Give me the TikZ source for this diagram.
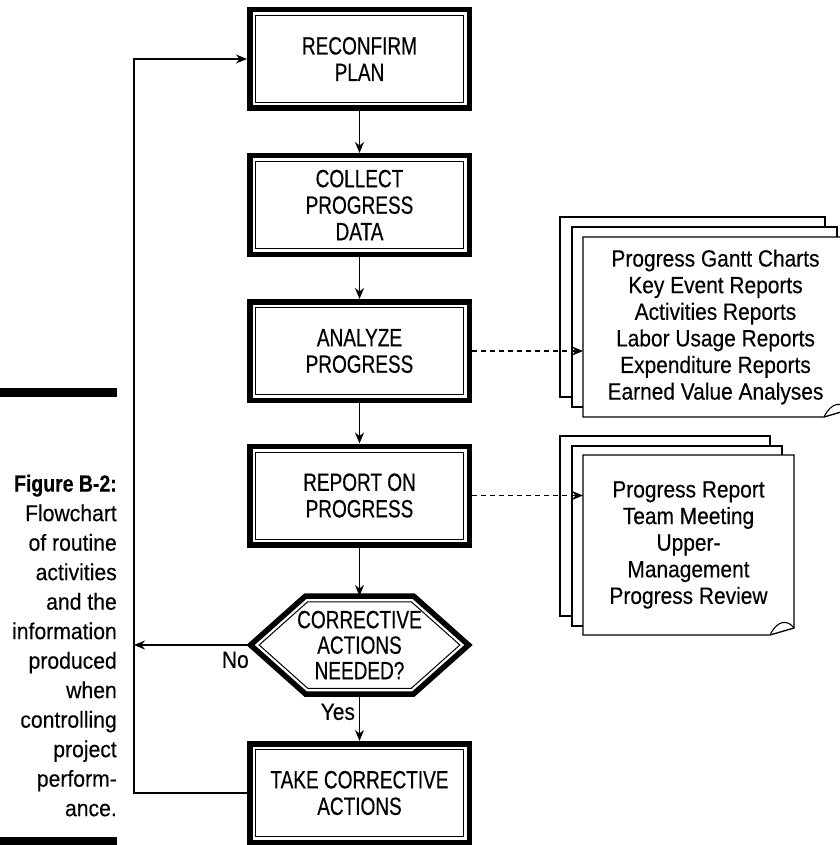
\documentclass[tikz,border=0pt]{standalone}
\usepackage{graphicx}
\usepackage{fontspec}
\setmainfont{Liberation Sans}
\newfontfamily\boxfont{Liberation Sans}[FakeStretch=0.76, FakeBold=0.4]
\newfontfamily\docfont{Liberation Sans}[FakeStretch=0.89, FakeBold=0.3]
\newfontfamily\capfont{Liberation Sans}[FakeStretch=0.92, FakeBold=0.3]
\usepackage{tikz}
\usetikzlibrary{arrows.meta, positioning}

\begin{document}
\begin{tikzpicture}[x=1pt, y=-1pt,
    stage/.style={rectangle, draw=black, line width=5.5pt, fill=white,
                  minimum width=219.5pt, minimum height=98.5pt, align=center,
                  font=\boxfont\fontsize{25}{26.5}\selectfont,
                  path picture={\draw[line width=1pt]
                      ([xshift=5.75pt,yshift=5.75pt]path picture bounding box.south west) rectangle
                      ([xshift=-5.75pt,yshift=-5.75pt]path picture bounding box.north east);}},
    decision/.style={rectangle, minimum width=218pt, minimum height=98pt, outer sep=0pt,
                     align=center, font=\boxfont\fontsize{25}{25.5}\selectfont},
    hexline/.style={line width=5.5pt, line join=miter},
    flow/.style={-{Stealth[length=11pt, width=9pt, inset=3.5pt]}, line width=1.2pt},
    infoflow/.style={flow, dash pattern=on 5pt off 4pt},
    sheet/.style={draw=black, fill=white, line width=1.3pt},
    docsheet/.style={rectangle, fill=white, inner sep=0pt, outer sep=0pt,
                     minimum height=180pt, align=center,
                     font=\docfont\fontsize{23.5}{26.6}\selectfont},
    tag/.style={font=\docfont\fontsize{23.5}{24}\selectfont, inner sep=1pt},
    caption/.style={align=right, inner sep=0pt, font=\capfont\fontsize{23}{29.5}\selectfont}]

    \useasboundingbox (0,0) rectangle (839,845);

    % Main flow (middle column)
    \node[stage] (plan) at (359.5,59) {RECONFIRM\\PLAN};
    \node[stage] (collect) at (359.5,205) {COLLECT\\PROGRESS\\DATA};
    \node[stage] (analyze) at (359.5,351) {ANALYZE\\PROGRESS};
    \node[stage] (report) at (359.5,495.5) {REPORT ON\\PROGRESS};
    \node[decision] (decide) at (359.5,645) {CORRECTIVE\\ACTIONS\\NEEDED?};
    \node[stage] (take) at (359.5,793) {TAKE CORRECTIVE\\ACTIONS};

    % Decision hexagon, thick outline and thin inner line
    \draw[hexline] (decide.west) -- ([xshift=55pt]decide.north west)
        -- ([xshift=-55pt]decide.north east) -- (decide.east)
        -- ([xshift=-55pt]decide.south east) -- ([xshift=55pt]decide.south west) -- cycle;
    \draw[line width=1pt] ([xshift=8.65pt]decide.west)
        -- ([xshift=57.2pt,yshift=-5.75pt]decide.north west)
        -- ([xshift=-57.2pt,yshift=-5.75pt]decide.north east)
        -- ([xshift=-8.65pt]decide.east)
        -- ([xshift=-57.2pt,yshift=5.75pt]decide.south east)
        -- ([xshift=57.2pt,yshift=5.75pt]decide.south west) -- cycle;

    % Report stacks (right column)
    \draw[sheet] (560,217) rectangle (825,397);
    \draw[sheet] (572,227) rectangle (837,407);
    \node[docsheet, minimum width=265pt] (gantt) at (715.5,327)
        {Progress Gantt Charts\\Key Event Reports\\Activities Reports\\Labor Usage Reports\\Expenditure Reports\\Earned Value Analyses};
    \draw[line width=1.3pt] (gantt.south west) -- (gantt.north west) -- (gantt.north east)
        -- ([yshift=7pt]gantt.south east) -- ([xshift=-24pt]gantt.south east) -- cycle;
    \draw[line width=1.1pt] ([xshift=-24pt]gantt.south east)
        .. controls ([xshift=-16pt,yshift=16pt]gantt.south east) and ([xshift=-6pt,yshift=15pt]gantt.south east)
        .. ([yshift=7pt]gantt.south east);

    \draw[sheet] (560,436) rectangle (770,616);
    \draw[sheet] (572,446) rectangle (782,626);
    \node[docsheet, minimum width=211pt] (review) at (688.5,545)
        {Progress Report\\Team Meeting\\Upper-\\Management\\Progress Review};
    \draw[line width=1.3pt] (review.south west) -- (review.north west) -- (review.north east)
        -- ([yshift=7pt]review.south east) -- ([xshift=-24pt]review.south east) -- cycle;
    \draw[line width=1.1pt] ([xshift=-24pt]review.south east)
        .. controls ([xshift=-16pt,yshift=16pt]review.south east) and ([xshift=-6pt,yshift=15pt]review.south east)
        .. ([yshift=7pt]review.south east);

    % Connections
    \draw[flow] (plan) -- (collect);
    \draw[flow] (collect) -- (analyze);
    \draw[flow] (analyze) -- (report);
    \draw[flow] (report.south) -- (decide.north);
    \draw[flow] (decide.south) -- (take.north) node[tag, pos=0.38, left=3pt] {Yes};
    \draw[flow] (take.west) -- ++(-113,0) coordinate (loopfoot) |- (plan.west);
    \draw[flow] (decide.west) -- (decide.west -| loopfoot) node[tag, pos=0.13, below=5pt] {No};
    \draw[infoflow] (analyze.east) -- (analyze.east -| gantt.west);
    \draw[infoflow] (report.east) -- (report.east -| review.west);

    % Figure caption (left margin)
    \fill (0,388) rectangle (117,397);
    \node[caption, anchor=east] (cap) at (117,645.5)
        {\textbf{\scalebox{0.92}[1.02]{Figure B-2:}}\\Flowchart\\of routine\\activities\\and the\\information\\produced\\when\\controlling\\project\\perform-\\ance.};
    \fill (0,837) rectangle (117,845);

\end{tikzpicture}
\end{document}
